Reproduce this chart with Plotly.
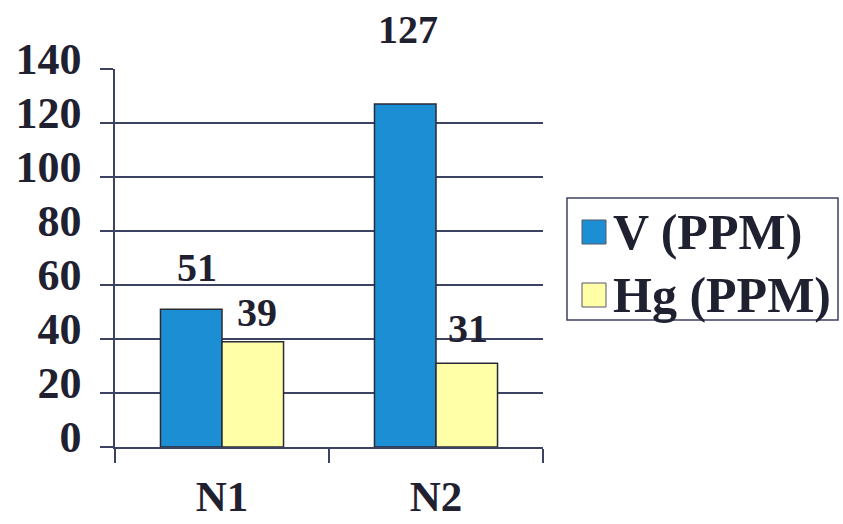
import plotly.graph_objects as go

# Sample sites and measured concentrations
categories = ["N1", "N2"]
series_names = ["V (PPM)", "Hg (PPM)"]
v_values = [51, 127]
hg_values = [39, 31]
y_ticks = [0, 20, 40, 60, 80, 100, 120, 140]

# value-label offsets in pixels (x from group centre, y above bar top)
label_dx = [[-25, -28], [35, 32]]
label_dy = [[42, 75], [29, 35]]

BLUE = "#1C8FD4"
YELLOW = "#FFFFA8"
INK = "#1F2030"
LINE = "#3C4262"
FONT = "Liberation Serif, Times New Roman, Times, serif"

W, H = 843, 524
ML, MR, MT, MB = 115, 300, 69, 77
PW, PH = W - ML - MR, H - MT - MB


def px_x(px):
    return (px - ML) / PW


def px_y(py):
    return (H - MB - py) / PH


fig = go.Figure()
for name, vals, col in [(series_names[0], v_values, BLUE), (series_names[1], hg_values, YELLOW)]:
    fig.add_trace(go.Bar(
        x=categories, y=vals, name=name, showlegend=False,
        marker=dict(color=col, line=dict(color="#2A2A35", width=1.5)),
    ))

# value labels above the bars
annotations = []
for s, vals in enumerate([v_values, hg_values]):
    for i, v in enumerate(vals):
        annotations.append(dict(
            x=categories[i], y=v, xref="x", yref="y", text=str(v), showarrow=False,
            xshift=label_dx[s][i], yshift=label_dy[s][i], yanchor="middle",
            font=dict(family=FONT, size=40, color=INK, weight=700),
        ))

# legend box drawn as shapes + text
shapes = [dict(type="rect", xref="paper", yref="paper",
               x0=px_x(567), x1=px_x(838), y0=px_y(320), y1=px_y(198),
               line=dict(color=LINE, width=1.5), fillcolor="rgba(0,0,0,0)")]
for name, col, cy in [(series_names[0], BLUE, 232), (series_names[1], YELLOW, 295)]:
    shapes.append(dict(type="rect", xref="paper", yref="paper",
                       x0=px_x(582), x1=px_x(606), y0=px_y(cy + 12), y1=px_y(cy - 12),
                       line=dict(color="#55566A", width=1), fillcolor=col))
    annotations.append(dict(
        x=px_x(611), y=px_y(cy), xref="paper", yref="paper", text=name,
        showarrow=False, xanchor="left", yanchor="middle",
        font=dict(family=FONT, size=50, color=INK, weight=700),
    ))

fig.update_layout(
    width=W, height=H,
    margin=dict(l=ML, r=MR, t=MT, b=MB, autoexpand=False),
    paper_bgcolor="white", plot_bgcolor="white",
    barmode="group", bargap=0.425, bargroupgap=0,
    annotations=annotations, shapes=shapes,
    showlegend=False,
)
fig.update_xaxes(
    range=[-0.5, 1.5], showgrid=False, showline=True, linecolor=LINE, linewidth=1.5,
    ticks="outside", tickson="boundaries", ticklen=14, tickcolor=LINE, tickwidth=1.5,
    tickfont=dict(family=FONT, size=43, color=INK, weight=700),
    ticklabelstandoff=11, automargin=False,
)
fig.update_yaxes(
    range=[0, 140], tickvals=y_ticks, showgrid=True, gridcolor=LINE, gridwidth=1.5,
    showline=True, linecolor=LINE, linewidth=1.5, zeroline=False,
    ticks="outside", ticklen=13, tickcolor=LINE, tickwidth=1.5,
    tickfont=dict(family=FONT, size=44, color=INK, weight=700),
    ticklabelstandoff=10, ticklabelshift=-10, automargin=False,
)

fig.write_html("out.html")
